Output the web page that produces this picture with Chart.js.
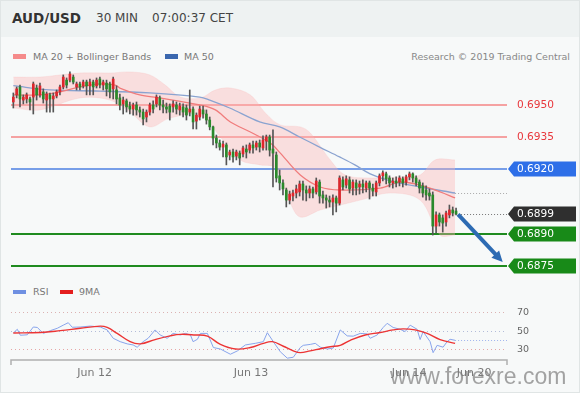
<!DOCTYPE html>
<html>
<head>
<meta charset="utf-8">
<script src="https://cdn.jsdelivr.net/npm/chart.js@4.4.1/dist/chart.umd.min.js"></script>
<style>
  html, body { margin: 0; padding: 0; }
  body { width: 580px; height: 393px; overflow: hidden; position: relative; background: #f7f9f9; font-family: "DejaVu Sans", sans-serif; }
  #header { position: absolute; left: 0; top: 0; width: 580px; height: 37px; background: #eef2f2; }
  .txt { position: absolute; white-space: nowrap; line-height: 1; }
  #pair { left: 12px; top: 12px; font-size: 13.5px; font-weight: bold; color: #333; }
  #tf { left: 90px; top: 7px; width: 53px; height: 24px; background: #e2e8e8; }
  #tfText { left: 96px; top: 12px; font-size: 12px; color: #444; }
  #clock { left: 152px; top: 12px; font-size: 12px; color: #444; }
  .sw { position: absolute; height: 5px; width: 13px; }
  .leg { font-size: 9.5px; color: #777; }
  #main { position: absolute; left: 0; top: 40px; }
  #rsi { position: absolute; left: 0; top: 285px; }
  #wm { position: absolute; left: 390px; top: 365px; font-family: "Liberation Sans", sans-serif; font-size: 23px; line-height: 23px; color: rgba(125,125,125,0.7); white-space: nowrap; }
  #frame { position: absolute; left: 0; top: 0; width: 578px; height: 391px; border: 1px solid #e0e5e5; }
</style>
</head>
<body>
<div id="header"></div>
<div id="tf"></div>
<div class="txt" id="pair">AUD/USD</div>
<div class="txt" id="tfText">30 MIN</div>
<div class="txt" id="clock">07:00:37 CET</div>

<div class="sw" style="left:13px;top:54px;background:#f58b8b"></div>
<div class="txt leg" style="left:33px;top:51.7px">MA 20 + Bollinger Bands</div>
<div class="sw" style="left:165px;top:54px;background:#3a67ae"></div>
<div class="txt leg" style="left:184px;top:51.7px">MA 50</div>
<div class="txt leg" style="right:10px;top:51.7px;color:#888">Research © 2019 Trading Central</div>

<canvas id="main" width="580" height="245"></canvas>

<div class="sw" style="left:13px;top:289.5px;height:4px;background:#6f90e2"></div>
<div class="txt leg" style="left:33px;top:286.7px">RSI</div>
<div class="sw" style="left:60px;top:289.5px;height:4px;background:#e41e1e"></div>
<div class="txt leg" style="left:79px;top:286.7px">9MA</div>

<canvas id="rsi" width="580" height="108"></canvas>
<div id="wm">www.forexre.com</div>
<div id="frame"></div>

<script>
// 30-minute candles, oldest first
const opens = [
  0.69514,0.69547,0.69584,0.69523,0.69528,0.69528,0.69537,0.69579,0.69547,0.69561,
  0.69523,0.69547,0.69528,0.69542,0.69561,0.69584,0.69616,0.69616,0.69630,0.69584,
  0.69598,0.69589,0.69607,0.69589,0.69607,0.69589,0.69621,0.69593,0.69602,0.69598,
  0.69575,0.69570,0.69533,0.69505,0.69519,0.69495,0.69481,0.69500,0.69477,0.69467,
  0.69444,0.69467,0.69500,0.69505,0.69533,0.69500,0.69491,0.69495,0.69491,0.69500,
  0.69477,0.69491,0.69486,0.69467,0.69481,0.69425,0.69444,0.69477,0.69458,0.69430,
  0.69398,0.69346,0.69323,0.69304,0.69314,0.69267,0.69281,0.69262,0.69276,0.69272,
  0.69295,0.69290,0.69314,0.69304,0.69323,0.69300,0.69332,0.69351,0.69295,0.69267,
  0.69170,0.69137,0.69104,0.69057,0.69076,0.69090,0.69095,0.69132,0.69104,0.69090,
  0.69109,0.69095,0.69141,0.69081,0.69067,0.69057,0.69048,0.69067,0.69043,0.69151,
  0.69127,0.69151,0.69113,0.69137,0.69118,0.69132,0.69113,0.69137,0.69113,0.69095,
  0.69137,0.69170,0.69179,0.69160,0.69137,0.69146,0.69141,0.69156,0.69141,0.69165,
  0.69179,0.69160,0.69141,0.69123,0.69104,0.69090,0.69081,0.68936,0.68988,0.68974,
  0.68955,0.68988,0.69011,0.69006
];
const closes = [
  0.69537,0.69575,0.69528,0.69537,0.69547,0.69514,0.69598,0.69547,0.69589,0.69528,
  0.69551,0.69528,0.69542,0.69561,0.69584,0.69630,0.69593,0.69644,0.69607,0.69598,
  0.69584,0.69607,0.69589,0.69607,0.69584,0.69616,0.69593,0.69607,0.69575,0.69561,
  0.69621,0.69528,0.69500,0.69523,0.69491,0.69481,0.69500,0.69477,0.69467,0.69435,
  0.69467,0.69500,0.69481,0.69537,0.69500,0.69491,0.69481,0.69467,0.69505,0.69481,
  0.69495,0.69467,0.69453,0.69481,0.69421,0.69453,0.69481,0.69458,0.69430,0.69398,
  0.69346,0.69323,0.69304,0.69318,0.69258,0.69281,0.69258,0.69281,0.69253,0.69300,
  0.69281,0.69314,0.69300,0.69323,0.69304,0.69337,0.69351,0.69290,0.69276,0.69160,
  0.69137,0.69109,0.69057,0.69085,0.69090,0.69109,0.69132,0.69104,0.69090,0.69109,
  0.69090,0.69146,0.69076,0.69067,0.69057,0.69048,0.69067,0.69043,0.69160,0.69118,
  0.69156,0.69109,0.69141,0.69113,0.69132,0.69118,0.69137,0.69113,0.69099,0.69137,
  0.69170,0.69184,0.69156,0.69137,0.69146,0.69137,0.69160,0.69137,0.69165,0.69179,
  0.69160,0.69137,0.69113,0.69090,0.69081,0.69076,0.68936,0.68988,0.68955,0.68950,
  0.68997,0.69011,0.68997,0.68992
];
const highs = [
  0.69556,0.69584,0.69593,0.69547,0.69556,0.69537,0.69607,0.69593,0.69602,0.69575,
  0.69561,0.69556,0.69556,0.69570,0.69593,0.69640,0.69626,0.69654,0.69640,0.69607,
  0.69607,0.69616,0.69616,0.69621,0.69616,0.69626,0.69630,0.69616,0.69616,0.69607,
  0.69630,0.69589,0.69551,0.69537,0.69528,0.69514,0.69509,0.69514,0.69491,0.69481,
  0.69477,0.69509,0.69519,0.69547,0.69542,0.69523,0.69509,0.69505,0.69519,0.69514,
  0.69509,0.69505,0.69500,0.69570,0.69491,0.69463,0.69495,0.69495,0.69477,0.69444,
  0.69402,0.69360,0.69337,0.69332,0.69323,0.69290,0.69295,0.69290,0.69286,0.69309,
  0.69314,0.69323,0.69332,0.69332,0.69337,0.69356,0.69360,0.69360,0.69384,0.69281,
  0.69197,0.69151,0.69113,0.69099,0.69104,0.69127,0.69146,0.69146,0.69123,0.69123,
  0.69118,0.69160,0.69151,0.69099,0.69081,0.69076,0.69081,0.69076,0.69170,0.69165,
  0.69170,0.69165,0.69151,0.69151,0.69146,0.69151,0.69146,0.69146,0.69132,0.69146,
  0.69179,0.69193,0.69188,0.69170,0.69160,0.69165,0.69170,0.69165,0.69174,0.69188,
  0.69184,0.69170,0.69151,0.69137,0.69123,0.69109,0.69095,0.69002,0.68997,0.68988,
  0.69006,0.69034,0.69025,0.69020
];
const lows = [
  0.69486,0.69533,0.69491,0.69505,0.69509,0.69477,0.69458,0.69523,0.69537,0.69509,
  0.69467,0.69467,0.69467,0.69533,0.69547,0.69575,0.69579,0.69607,0.69598,0.69570,
  0.69570,0.69579,0.69547,0.69547,0.69547,0.69579,0.69579,0.69570,0.69542,0.69533,
  0.69528,0.69505,0.69477,0.69458,0.69467,0.69458,0.69453,0.69453,0.69444,0.69407,
  0.69421,0.69453,0.69463,0.69491,0.69477,0.69463,0.69463,0.69430,0.69467,0.69458,
  0.69453,0.69444,0.69430,0.69449,0.69388,0.69388,0.69430,0.69439,0.69411,0.69384,
  0.69314,0.69300,0.69290,0.69258,0.69221,0.69244,0.69234,0.69244,0.69221,0.69258,
  0.69253,0.69276,0.69276,0.69290,0.69281,0.69290,0.69290,0.69262,0.69118,0.69141,
  0.69104,0.69081,0.69025,0.69039,0.69053,0.69067,0.69076,0.69057,0.69053,0.69067,
  0.69067,0.69085,0.69043,0.69043,0.69020,0.69025,0.68988,0.69002,0.69034,0.69104,
  0.69113,0.69090,0.69081,0.69081,0.69085,0.69090,0.69095,0.69062,0.69076,0.69076,
  0.69123,0.69146,0.69132,0.69118,0.69113,0.69118,0.69123,0.69118,0.69127,0.69151,
  0.69141,0.69123,0.69090,0.69071,0.69057,0.69057,0.68894,0.68904,0.68936,0.68908,
  0.68936,0.68974,0.68983,0.68988
];

// indicators (x = bar number)
const ma20Bars = [0, 8, 14, 20, 26, 30.6, 32, 38, 44, 56, 60.7, 65.2, 71.2, 77.2, 80.2, 86.2, 92.2, 98.2, 110.2, 116.2, 122.2, 128.2, 132.7];
const ma20 = [0.69547, 0.69547, 0.69561, 0.69584, 0.69598, 0.69593, 0.69579, 0.69547, 0.69533, 0.69500, 0.69477, 0.69421, 0.69374, 0.69323, 0.69276, 0.69174, 0.69118, 0.69104, 0.69113, 0.69141, 0.69127, 0.69095, 0.69067];
const ma50Bars = [0, 11, 26, 41, 56, 59, 65, 74, 80, 86, 92, 98, 102.6, 107.2, 113.2, 122.2, 132.7];
const ma50 = [0.69590, 0.69570, 0.69565, 0.69556, 0.69537, 0.69523, 0.69486, 0.69421, 0.69398, 0.69351, 0.69304, 0.69258, 0.69221, 0.69179, 0.69146, 0.69118, 0.69090];
const upperBars = [0, 8, 14, 20, 29, 35, 41, 45.6, 50.2, 56.2, 60.7, 65.2, 71.2, 75.7, 80.2, 86.2, 89.2, 95.2, 99.7, 107.2, 116.2, 122.2, 126.7, 132.7];
const upperBand = [0.69630, 0.69630, 0.69640, 0.69649, 0.69649, 0.69654, 0.69640, 0.69593, 0.69537, 0.69533, 0.69570, 0.69579, 0.69547, 0.69463, 0.69407, 0.69398, 0.69370, 0.69244, 0.69174, 0.69160, 0.69165, 0.69174, 0.69244, 0.69244];
const lowerBars = [0, 8, 20, 29, 35, 41, 47, 56.2, 62.2, 68.2, 74.2, 78.7, 83.2, 86.2, 92.2, 98.2, 104.2, 113.2, 122.2, 128.2, 132.7];
const lowerBand = [0.69486, 0.69477, 0.69533, 0.69523, 0.69467, 0.69398, 0.69439, 0.69453, 0.69351, 0.69244, 0.69221, 0.69207, 0.69043, 0.68978, 0.69011, 0.69034, 0.69057, 0.69090, 0.69057, 0.68894, 0.68894];

const rsiBars = [0, 1.2, 2.1, 4.2, 6, 7.2, 9, 11.1, 13.2, 15, 16.5, 17.7, 20.1, 23.1, 26.1, 28.2, 30, 32.1, 34.2, 36, 37.2, 39, 40.5, 42.6, 44.1, 46.2, 48, 50.2, 51.7, 53.2, 54, 55.3, 56.2, 58.3, 60.1, 62.2, 65.2, 67.3, 69.7, 72.7, 75.1, 76.3, 78.1, 80.2, 82.3, 84.1, 86.2, 87.1, 89.2, 90.7, 92.2, 94.3, 96.1, 98.2, 100.3, 102.1, 104.2, 106.3, 107.2, 109.3, 111.1, 112.3, 114.1, 116.2, 117.7, 119.2, 121.3, 122.2, 123.1, 125.2, 126.1, 127.3, 129.1, 130.3, 131.2, 132.7];
const rsi = [47.5, 51.5, 45, 45.5, 54, 53.5, 47, 50, 52.6, 56, 58.7, 53.7, 54, 55, 54, 50.8, 41.7, 38, 35.6, 34.4, 31.9, 38, 41.7, 50.8, 45.3, 41.7, 47, 45.3, 47, 45.3, 38, 40.6, 47, 47, 31.6, 30, 24.3, 27.9, 34.4, 36.2, 38, 47.8, 38, 27, 20, 21, 31.6, 34, 35, 36.2, 32, 30, 31, 50.8, 44.3, 44, 47, 46.5, 41.7, 45.3, 53.5, 58, 53.5, 51.5, 49, 56, 51.5, 40.3, 49, 38, 26, 34, 32, 38, 40.6, 39.5];
const rsiMaBars = [0, 8.1, 14.1, 20.1, 26.1, 28.2, 31.2, 35.1, 38.1, 42.6, 47.1, 50.2, 54.7, 58.3, 62.2, 66.7, 71.2, 75.1, 77.8, 81.1, 84.1, 86.2, 89.2, 92.2, 95.2, 98.2, 101.2, 105.7, 110.2, 114.1, 117.1, 120.7, 124.3, 128.2, 132.7];
const rsiMa = [47.5, 48, 50, 52.6, 55, 53.5, 47, 38, 35.6, 40.3, 44.3, 46, 45.3, 44, 35, 30, 31.6, 36.2, 38, 33, 28, 26, 28, 30.3, 32.5, 34, 39.5, 45.3, 48, 50.8, 52, 50.8, 47, 40.3, 36.2];

const levelPrices = [0.6950, 0.6935, 0.6920, 0.6890, 0.6875];
const levelKinds = ['resistance', 'resistance', 'pivot', 'support', 'support'];
const lastPrice = 0.6899;
const forecastFrom = { x: 133.6, y: 0.6899 };
const forecastTo = { x: 147, y: 0.68769 };

const rsiTicks = [70, 50, 30];
const dayTickBars = [24.4, 71.4, 118.9, 138.4];
const dayTickLabels = ['Jun 12', 'Jun 13', 'Jun 14', 'Jun 20'];

// shared x range (bar numbers) and price range
const xMin = -0.7, xMax = 148.3;
const priceMin = 0.686848, priceMax = 0.696863;

const upColor = '#de262c';
const downColor = '#2b892b';
const FONT = '"DejaVu Sans", sans-serif';

const pts = (xs, ys) => xs.map((x, k) => ({ x: x, y: ys[k] }));
const bodyData = opens.map((o, i) => ({ x: i, y: [o, closes[i]] }));
const wickData = opens.map((o, i) => ({ x: i, y: [lows[i], highs[i]] }));

const levelStyle = {
  resistance: { line: '#f5a2a2', text: '#e8383d' },
  pivot: { line: '#4c7fe2', tag: '#2e6fe8' },
  support: { line: '#1f8b1f', tag: '#188a18' }
};

function drawTag(ctx, area, y, fill, label) {
  const x0 = area.right + 1, x1 = area.right + 7, x2 = 576, h = 7.5;
  ctx.beginPath();
  ctx.moveTo(x0, y);
  ctx.lineTo(x1, y - h);
  ctx.lineTo(x2, y - h);
  ctx.lineTo(x2, y + h);
  ctx.lineTo(x1, y + h);
  ctx.closePath();
  ctx.fillStyle = fill;
  ctx.fill();
  ctx.fillStyle = '#fff';
  ctx.font = '10.6px ' + FONT;
  ctx.textBaseline = 'middle';
  ctx.fillText(label, area.right + 10, y + 0.5);
}

const levelsPlugin = {
  id: 'levels',
  beforeDatasetsDraw(chart) {
    const { ctx, chartArea: a, scales } = chart;
    ctx.save();
    levelPrices.forEach((p, k) => {
      const y = Math.round(scales.y.getPixelForValue(p));
      ctx.strokeStyle = levelStyle[levelKinds[k]].line;
      ctx.lineWidth = levelKinds[k] === 'pivot' ? 1.5 : 2;
      ctx.beginPath();
      ctx.moveTo(a.left, y);
      ctx.lineTo(a.right, y);
      ctx.stroke();
    });
    ctx.restore();
  },
  afterDatasetsDraw(chart) {
    const { ctx, chartArea: a, scales } = chart;
    const xs = scales.x, ys = scales.y;
    ctx.save();
    // dotted markers for last price and MA 50
    ctx.setLineDash([1, 2]);
    ctx.lineWidth = 1;
    ctx.strokeStyle = '#777';
    let y = Math.round(ys.getPixelForValue(lastPrice)) + 0.5;
    ctx.beginPath();
    ctx.moveTo(xs.getPixelForValue(opens.length + 0.5), y);
    ctx.lineTo(a.right, y);
    ctx.stroke();
    ctx.strokeStyle = '#aaa';
    y = Math.round(ys.getPixelForValue(ma50[ma50.length - 1])) + 0.5;
    ctx.beginPath();
    ctx.moveTo(xs.getPixelForValue(ma50Bars[ma50Bars.length - 1]), y);
    ctx.lineTo(a.right, y);
    ctx.stroke();
    ctx.setLineDash([]);
    // forecast arrow
    const ax = xs.getPixelForValue(forecastFrom.x), ay = ys.getPixelForValue(forecastFrom.y);
    const bx = xs.getPixelForValue(forecastTo.x), by = ys.getPixelForValue(forecastTo.y);
    const ang = Math.atan2(by - ay, bx - ax);
    const head = 12;
    ctx.strokeStyle = '#2d6bb3';
    ctx.fillStyle = '#2d6bb3';
    ctx.lineWidth = 4;
    ctx.beginPath();
    ctx.moveTo(ax, ay);
    ctx.lineTo(bx - Math.cos(ang) * head * 0.8, by - Math.sin(ang) * head * 0.8);
    ctx.stroke();
    ctx.beginPath();
    ctx.moveTo(bx, by);
    ctx.lineTo(bx - head * Math.cos(ang - 0.45), by - head * Math.sin(ang - 0.45));
    ctx.lineTo(bx - head * Math.cos(ang + 0.45), by - head * Math.sin(ang + 0.45));
    ctx.closePath();
    ctx.fill();
    ctx.restore();
  },
  afterDraw(chart) {
    const { ctx, chartArea: a, scales } = chart;
    ctx.save();
    levelPrices.forEach((p, k) => {
      const y = Math.round(scales.y.getPixelForValue(p));
      const st = levelStyle[levelKinds[k]];
      if (st.tag) {
        drawTag(ctx, a, y, st.tag, p.toFixed(4));
      } else {
        ctx.fillStyle = st.text;
        ctx.font = '10.6px ' + FONT;
        ctx.textBaseline = 'middle';
        ctx.fillText(p.toFixed(4), a.right + 10, y + 0.5);
      }
    });
    drawTag(ctx, a, Math.round(scales.y.getPixelForValue(lastPrice)), '#2f2f2f', lastPrice.toFixed(4));
    ctx.restore();
  }
};

new Chart(document.getElementById('main'), {
  type: 'bar',
  data: {
    datasets: [
      { type: 'bar', data: bodyData, backgroundColor: ctx => closes[ctx.dataIndex] >= opens[ctx.dataIndex] ? upColor : downColor,
        barThickness: 2, grouped: false, order: 0 },
      { type: 'bar', data: wickData, backgroundColor: '#555', barThickness: 1, grouped: false, order: 1 },
      { type: 'line', data: pts(ma20Bars, ma20), borderColor: '#f07c7c', borderWidth: 1.3, pointRadius: 0, tension: 0.35, order: 2 },
      { type: 'line', data: pts(ma50Bars, ma50), borderColor: '#8aa3d0', borderWidth: 1.3, pointRadius: 0, tension: 0.35, order: 2 },
      { type: 'line', data: pts(upperBars, upperBand), borderColor: 'rgba(248,170,170,0.2)', borderWidth: 1,
        backgroundColor: 'rgba(252,180,180,0.38)', fill: '+1', pointRadius: 0, tension: 0.35, order: 3 },
      { type: 'line', data: pts(lowerBars, lowerBand), borderColor: 'rgba(248,170,170,0.2)', borderWidth: 1,
        fill: false, pointRadius: 0, tension: 0.35, order: 3 }
    ]
  },
  options: {
    responsive: false,
    animation: false,
    layout: { padding: { left: 11, right: 73, top: 25, bottom: 5 } },
    plugins: { legend: { display: false }, tooltip: { enabled: false } },
    scales: {
      x: { type: 'linear', display: false, offset: false, min: xMin, max: xMax },
      y: { display: false, min: priceMin, max: priceMax }
    }
  },
  plugins: [levelsPlugin]
});

const rsiGridColors = ['#dcb2b2', '#b3bcd9', '#e6a6a6'];

const rsiAxesPlugin = {
  id: 'rsiAxes',
  beforeDatasetsDraw(chart) {
    const { ctx, chartArea: a, scales } = chart;
    ctx.save();
    ctx.setLineDash([1, 3]);
    ctx.lineWidth = 1;
    rsiTicks.forEach((v, k) => {
      const y = Math.round(scales.y.getPixelForValue(v)) + 0.5;
      ctx.strokeStyle = rsiGridColors[k];
      ctx.beginPath();
      ctx.moveTo(a.left, y);
      ctx.lineTo(a.right, y);
      ctx.stroke();
    });
    ctx.restore();
  },
  afterDraw(chart) {
    const { ctx, chartArea: a, scales } = chart;
    ctx.save();
    // last RSI marker
    ctx.setLineDash([1, 2]);
    ctx.strokeStyle = '#9fb4ee';
    const ly = Math.round(scales.y.getPixelForValue(rsi[rsi.length - 1])) + 0.5;
    ctx.beginPath();
    ctx.moveTo(scales.x.getPixelForValue(rsiBars[rsiBars.length - 1]), ly);
    ctx.lineTo(a.right, ly);
    ctx.stroke();
    ctx.setLineDash([]);
    // value labels
    ctx.fillStyle = '#666';
    ctx.font = '9.5px ' + FONT;
    ctx.textBaseline = 'middle';
    rsiTicks.forEach(v => ctx.fillText(String(v), a.right + 10, scales.y.getPixelForValue(v) + 0.5));
    // time axis
    ctx.strokeStyle = '#b0b0b0';
    ctx.lineWidth = 1.5;
    ctx.beginPath();
    ctx.moveTo(a.left, a.bottom + 5);
    ctx.lineTo(a.left, a.bottom);
    ctx.lineTo(a.right, a.bottom);
    ctx.lineTo(a.right, a.bottom + 5);
    ctx.stroke();
    ctx.fillStyle = '#777';
    ctx.font = '11px ' + FONT;
    ctx.textAlign = 'center';
    dayTickBars.forEach((b, k) => ctx.fillText(dayTickLabels[k], scales.x.getPixelForValue(b), a.bottom + 13));
    ctx.restore();
  }
};

new Chart(document.getElementById('rsi'), {
  type: 'line',
  data: {
    datasets: [
      { data: pts(rsiMaBars, rsiMa), borderColor: '#ec3434', borderWidth: 1.4, pointRadius: 0, tension: 0.4 },
      { data: pts(rsiBars, rsi), borderColor: '#88a4ec', borderWidth: 1, pointRadius: 0, tension: 0 }
    ]
  },
  options: {
    responsive: false,
    animation: false,
    layout: { padding: { left: 11, right: 73, top: 14.5, bottom: 33 } },
    plugins: { legend: { display: false }, tooltip: { enabled: false } },
    scales: {
      x: { type: 'linear', display: false, min: xMin, max: xMax },
      y: { display: false, min: 18, max: 84 }
    }
  },
  plugins: [rsiAxesPlugin]
});
</script>
</body>
</html>
